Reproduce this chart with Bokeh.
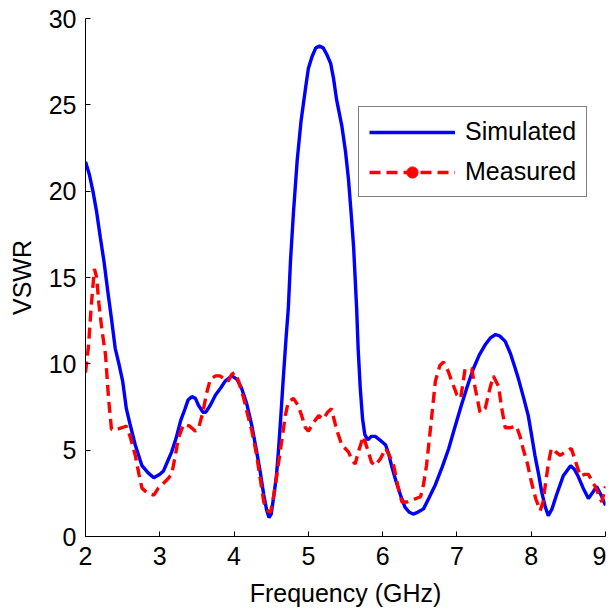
from bokeh.plotting import figure
from bokeh.models import Range1d, FixedTicker, Legend, LegendItem, ColumnDataSource
from bokeh.embed import file_html
from bokeh.resources import INLINE

sim_f = [2.00, 2.05, 2.10, 2.15, 2.20, 2.25, 2.30, 2.35, 2.40, 2.45, 2.50, 2.55, 2.60, 2.67, 2.76, 2.84,
         2.92, 3.00, 3.05, 3.10, 3.16, 3.22, 3.28, 3.34, 3.38, 3.43, 3.48, 3.52, 3.58, 3.62, 3.68, 3.75,
         3.82, 3.88, 3.97, 4.04, 4.10, 4.17, 4.24, 4.30, 4.35, 4.40, 4.44, 4.47, 4.50, 4.53, 4.57, 4.60,
         4.63, 4.66, 4.70, 4.73, 4.76, 4.80, 4.85, 4.90, 4.96, 5.00, 5.05, 5.10, 5.15, 5.20, 5.25, 5.30,
         5.34, 5.38, 5.45, 5.50, 5.54, 5.58, 5.61, 5.65, 5.67, 5.70, 5.73, 5.76, 5.80, 5.85, 5.90, 5.96,
         6.04, 6.08, 6.12, 6.18, 6.24, 6.30, 6.36, 6.41, 6.47, 6.55, 6.62, 6.71, 6.80, 6.89, 6.97, 7.06,
         7.14, 7.22, 7.30, 7.38, 7.45, 7.52, 7.58, 7.65, 7.72, 7.78, 7.83, 7.90, 7.96, 8.00, 8.05, 8.10,
         8.14, 8.19, 8.23, 8.28, 8.34, 8.43, 8.53, 8.58, 8.63, 8.70, 8.77, 8.82, 8.88, 8.94, 9.00]
sim_v = [21.7, 21.0, 20.0, 18.8, 17.3, 15.9, 14.2, 12.6, 10.9, 10.0, 9.0, 7.4, 6.5, 5.3, 4.1, 3.7,
         3.4, 3.6, 3.8, 4.3, 4.9, 5.7, 6.7, 7.4, 7.9, 8.1, 8.0, 7.6, 7.2, 7.2, 7.6, 8.2,
         8.6, 9.0, 9.3, 9.1, 8.6, 7.7, 6.4, 5.0, 3.8, 2.4, 1.5, 1.1, 1.3, 2.2, 3.5, 5.1,
         7.0, 9.0, 11.5, 13.2, 16.0, 18.8, 21.8, 24.0, 25.9, 27.1, 27.8, 28.3, 28.4, 28.3, 27.9, 27.4,
         26.5, 25.3, 23.8, 22.3, 20.7, 18.5, 16.7, 13.2, 10.9, 8.5, 6.8, 5.9, 5.6, 5.8, 5.8, 5.6,
         5.3, 4.8, 4.1, 3.2, 2.4, 1.7, 1.4, 1.3, 1.4, 1.6, 2.2, 3.0, 4.0, 5.1, 6.3, 7.6,
         8.7, 9.7, 10.5, 11.1, 11.5, 11.7, 11.6, 11.3, 10.6, 9.8, 9.1, 8.0, 7.0, 6.0, 4.7, 3.6,
         2.6, 1.7, 1.2, 1.6, 2.4, 3.5, 4.1, 3.9, 3.5, 2.8, 2.2, 2.5, 2.9, 2.4, 1.8]

meas_f = [2.00, 2.04, 2.08, 2.12, 2.15, 2.18, 2.22, 2.27, 2.31, 2.35, 2.42, 2.49, 2.55, 2.60, 2.67, 2.72,
          2.76, 2.84, 2.92, 2.98, 3.03, 3.10, 3.16, 3.21, 3.25, 3.32, 3.40, 3.48, 3.53, 3.58, 3.63, 3.68,
          3.75, 3.81, 3.88, 3.92, 3.97, 4.01, 4.06, 4.13, 4.18, 4.24, 4.30, 4.35, 4.40, 4.45, 4.49, 4.52,
          4.55, 4.60, 4.64, 4.69, 4.73, 4.80, 4.86, 4.91, 4.96, 5.00, 5.07, 5.14, 5.20, 5.26, 5.31, 5.38,
          5.45, 5.54, 5.59, 5.63, 5.68, 5.74, 5.80, 5.85, 5.90, 5.97, 6.04, 6.10, 6.15, 6.20, 6.26, 6.33,
          6.39, 6.45, 6.51, 6.55, 6.59, 6.65, 6.71, 6.77, 6.82, 6.88, 6.93, 7.00, 7.05, 7.11, 7.20, 7.25,
          7.31, 7.38, 7.44, 7.49, 7.56, 7.60, 7.65, 7.72, 7.80, 7.85, 7.89, 7.95, 8.00, 8.06, 8.12, 8.16,
          8.19, 8.23, 8.27, 8.33, 8.39, 8.46, 8.54, 8.60, 8.66, 8.72, 8.77, 8.82, 8.86, 8.92, 8.95, 9.00]
meas_v = [9.5, 11.0, 13.5, 15.5, 15.0, 13.5, 12.0, 10.5, 8.0, 6.2, 6.2, 6.3, 6.4, 5.8, 4.7, 3.6,
          2.8, 2.5, 2.4, 2.8, 3.0, 3.3, 3.6, 4.7, 5.7, 6.5, 6.4, 6.1, 6.4, 7.2, 8.3, 9.1,
          9.3, 9.3, 9.1, 9.0, 9.4, 9.5, 9.0, 8.0, 7.1, 6.1, 4.8, 3.4, 2.0, 1.5, 1.4, 2.0,
          2.8, 4.3, 5.5, 7.0, 7.8, 8.0, 7.6, 7.0, 6.3, 6.1, 6.6, 7.0, 6.8, 7.2, 7.4, 6.2,
          5.3, 4.9, 4.4, 4.2, 5.0, 5.8, 5.0, 4.3, 4.1, 4.5, 5.1, 4.6, 4.1, 3.0, 2.0, 2.0,
          2.1, 2.2, 2.3, 3.0, 4.1, 6.5, 9.0, 9.9, 10.1, 9.6, 9.0, 8.2, 8.0, 9.7, 9.7, 8.5,
          7.2, 7.4, 8.5, 9.3, 8.7, 7.5, 6.3, 6.3, 6.4, 5.8, 5.1, 4.2, 3.2, 2.2, 1.5, 2.0,
          3.0, 4.2, 5.1, 4.9, 4.7, 4.9, 5.1, 4.3, 3.5, 3.6, 3.6, 3.2, 2.9, 2.3, 2.0, 2.9]

x_ticks = [2, 3, 4, 5, 6, 7, 8, 9]
y_ticks = [0, 5, 10, 15, 20, 25, 30]

FONT = "Liberation Sans"

p = figure(frame_width=520, frame_height=518, output_backend="svg", toolbar_location=None,
           x_range=Range1d(2, 9), y_range=Range1d(0, 30),
           min_border_left=85, min_border_right=1, min_border_top=18, min_border_bottom=60)
p.outline_line_color = None
p.grid.visible = False
p.background_fill_color = "white"
p.border_fill_color = "white"

for ax in (p.xaxis[0], p.yaxis[0]):
    ax.major_tick_in = 5
    ax.major_tick_out = 0
    ax.minor_tick_in = 0
    ax.minor_tick_out = 0
    ax.axis_line_color = "black"
    ax.major_tick_line_color = "black"
    ax.major_label_text_font = FONT
    ax.major_label_text_font_size = "25px"
    ax.major_label_text_color = "black"
    ax.axis_label_text_font = FONT
    ax.axis_label_text_font_size = "25px"
    ax.axis_label_text_font_style = "normal"
    ax.axis_label_text_color = "black"

p.xaxis[0].ticker = FixedTicker(ticks=x_ticks)
p.yaxis[0].ticker = FixedTicker(ticks=y_ticks)
p.xaxis[0].axis_label = "Frequency (GHz)"
p.yaxis[0].axis_label = "VSWR"
p.xaxis[0].major_label_standoff = 10
p.yaxis[0].major_label_standoff = 9
p.xaxis[0].axis_label_standoff = 11
p.yaxis[0].axis_label_standoff = 10

sim_src = ColumnDataSource(dict(f=sim_f, v=sim_v))
meas_src = ColumnDataSource(dict(f=meas_f, v=meas_v))

r_sim = p.line("f", "v", source=sim_src, line_color="#0000ff", line_width=3.4)
r_meas = p.line("f", "v", source=meas_src, line_color="#ff0000", line_width=3.4, line_dash="11 6")
# legend-only marker for the "Measured" entry (placed outside the visible ranges)
r_dot = p.scatter(x=[-100], y=[-100], marker="circle", size=9, fill_color="#ff0000", line_color="#ff0000")

legend = Legend(items=[LegendItem(label="Simulated", renderers=[r_sim]),
                       LegendItem(label="Measured", renderers=[r_meas, r_dot])],
                location=(273, 339))
legend.label_text_font = FONT
legend.label_text_font_size = "25px"
legend.label_text_color = "black"
legend.glyph_width = 86
legend.glyph_height = 28
legend.label_height = 28
legend.label_standoff = 10
legend.spacing = 11
legend.padding = 10
legend.margin = 0
legend.border_line_color = "black"
legend.border_line_width = 1
legend.background_fill_color = "white"
legend.background_fill_alpha = 1
p.add_layout(legend, "center")

open("out.html", "w").write(file_html(p, INLINE))
